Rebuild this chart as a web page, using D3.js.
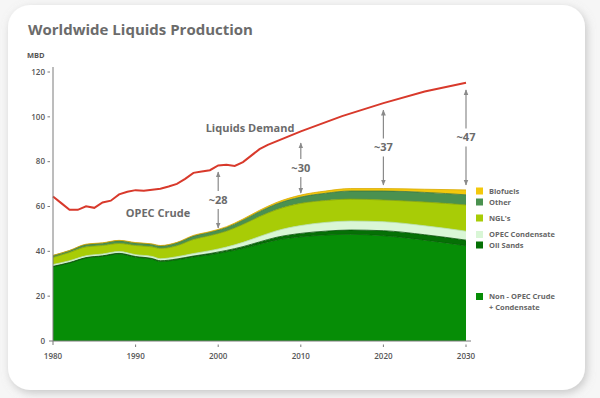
<!DOCTYPE html>
<html>
<head>
<meta charset="utf-8">
<script src="https://cdn.jsdelivr.net/npm/d3@7"></script>
<style>
  html, body { margin: 0; padding: 0; background: #ececec; }
  svg { display: block; font-family: "Open Sans", "DejaVu Sans", sans-serif; }
</style>
</head>
<body>
<div id="chart"></div>
<script>
// 数据：年份与各层产量（百万桶/日）
const years = [1980, 1982, 1984, 1986, 1988, 1990, 1992, 1993, 1995, 1997, 1999, 2001, 2003, 2005, 2007, 2010, 2013, 2016, 2020, 2025, 2030];
const nonOpec   = [33.1, 34.8, 37.0, 37.8, 38.8, 37.4, 36.5, 35.5, 36.2, 37.5, 38.5, 39.8, 41.3, 43.2, 45.0, 46.5, 47.3, 47.6, 47.0, 45.0, 42.5];
const oilSands  = [0.2, 0.2, 0.2, 0.2, 0.3, 0.3, 0.3, 0.3, 0.4, 0.4, 0.5, 0.6, 0.8, 1.0, 1.2, 1.5, 1.7, 1.9, 2.2, 2.4, 2.5];
const opecCond  = [0.8, 0.8, 0.8, 0.8, 0.8, 0.8, 0.9, 0.9, 1.0, 1.1, 1.3, 1.5, 1.9, 2.4, 2.9, 3.5, 3.9, 4.0, 4.0, 4.0, 4.0];
const ngl       = [3.2, 3.7, 4.0, 3.8, 3.6, 4.1, 4.3, 4.6, 4.9, 6.3, 6.7, 7.1, 8.0, 8.9, 9.4, 9.9, 9.8, 9.8, 9.7, 10.6, 11.7];
const other     = [0.8, 0.8, 1.0, 1.0, 1.2, 1.1, 1.1, 1.1, 1.3, 1.5, 1.5, 1.6, 1.9, 2.2, 2.5, 2.8, 3.2, 3.6, 4.0, 4.3, 4.5];
const biofuels  = [0.1, 0.1, 0.2, 0.2, 0.2, 0.2, 0.2, 0.2, 0.2, 0.3, 0.3, 0.4, 0.5, 0.6, 0.7, 0.9, 1.0, 1.1, 1.1, 1.4, 2.2];

// 需求曲线
const demandYears = [1980, 1981, 1982, 1983, 1984, 1985, 1986, 1987, 1988, 1989, 1990, 1991, 1992, 1993, 1994, 1995, 1996, 1997, 1998, 1999, 2000, 2001, 2002, 2003, 2004, 2005, 2006, 2008, 2010, 2015, 2020, 2025, 2030];
const demand      = [64.5, 61.5, 58.5, 58.5, 60.1, 59.4, 61.8, 62.6, 65.4, 66.6, 67.3, 67.0, 67.5, 67.9, 68.9, 70.1, 72.3, 75.0, 75.6, 76.2, 78.3, 78.6, 78.1, 79.8, 82.7, 85.6, 87.5, 90.5, 93.5, 100.3, 106.1, 111.3, 115.2];

// 缺口标注
const gapYears  = [2000, 2010, 2020, 2030];
const gapLabels = ["~28", "~30", "~37", "~47"];
const gapTop    = [75.4, 88.3, 103.0, 112.0];
const gapBottom = [50.4, 66.0, 69.6, 69.6];

const yTicks = [0, 20, 40, 60, 80, 100, 120];
const xTicks = [1980, 1990, 2000, 2010, 2020, 2030];

const layerKeys   = ["nonOpec", "oilSands", "opecCond", "ngl", "other", "biofuels"];
const layerColors = { nonOpec: "#068d06", oilSands: "#057005", opecCond: "#d9f6d6", ngl: "#a8cc06", other: "#4a9150", biofuels: "#f3c80c" };
const layerStroke = { nonOpec: "#045f04", oilSands: "#034d03", opecCond: "#b8e0b4", ngl: "#86a300", other: "#3a7440", biofuels: "#d8a800" };

// 图例（每行一个文本）
const legendItems = [
  { key: "biofuels", label: "Biofuels", y: 191 },
  { key: "other", label: "Other", y: 202 },
  { key: "ngl", label: "NGL's", y: 218 },
  { key: "opecCond", label: "OPEC Condensate", y: 234.5 },
  { key: "oilSands", label: "Oil Sands", y: 245 },
  { key: "nonOpec", label: "Non - OPEC Crude", y: 296.5 }
];
const legendExtra = [{ label: "+ Condensate", y: 307 }];

const width = 600, height = 398;
const svg = d3.select("#chart").append("svg")
  .attr("width", width)
  .attr("height", height);

// 卡片阴影
const defs = svg.append("defs");
const f = defs.append("filter").attr("id", "shadow").attr("x", "-10%").attr("y", "-10%").attr("width", "120%").attr("height", "120%");
f.append("feDropShadow").attr("dx", 2).attr("dy", 3).attr("stdDeviation", 4).attr("flood-color", "#999").attr("flood-opacity", 0.5);

svg.append("rect").attr("width", width).attr("height", height).attr("fill", "#f6f6f6");
svg.append("rect")
  .attr("x", 8).attr("y", 5).attr("width", 577).attr("height", 385)
  .attr("rx", 22).attr("ry", 22)
  .attr("fill", "#fff")
  .attr("filter", "url(#shadow)");

svg.append("text")
  .attr("x", 28).attr("y", 35)
  .attr("fill", "#6b6b6b")
  .style("font-size", "15px").style("font-weight", 700)
  .text("Worldwide Liquids Production");

// 比例尺
const x = d3.scaleLinear().domain([1980, 2030]).range([53, 466]);
const y = d3.scaleLinear().domain([0, 120]).range([341, 72]);

const table = years.map((yr, i) => ({
  year: yr, nonOpec: nonOpec[i], oilSands: oilSands[i], opecCond: opecCond[i],
  ngl: ngl[i], other: other[i], biofuels: biofuels[i]
}));
const series = d3.stack().keys(layerKeys)(table);

const area = d3.area()
  .x(d => x(d.data.year))
  .y0(d => y(d[0]))
  .y1(d => y(d[1]))
  .curve(d3.curveMonotoneX);
const topLine = d3.line()
  .x(d => x(d.data.year))
  .y(d => y(d[1]))
  .curve(d3.curveMonotoneX);

svg.append("g").selectAll("path")
  .data(series)
  .enter().append("path")
  .attr("d", area)
  .attr("fill", d => layerColors[d.key]);

svg.append("g").selectAll("path")
  .data(series)
  .enter().append("path")
  .attr("d", topLine)
  .attr("fill", "none")
  .attr("stroke", d => layerStroke[d.key])
  .attr("stroke-width", 0.8);

// 需求线
const demandLine = d3.line()
  .x((d, i) => x(demandYears[i]))
  .y(d => y(d))
  .curve(d3.curveLinear);
svg.append("path")
  .datum(demand)
  .attr("d", demandLine)
  .attr("fill", "none")
  .attr("stroke", "#d8392b")
  .attr("stroke-width", 2);

// 坐标轴
const axisColor = "#7a7a7a";
svg.append("line").attr("x1", 53).attr("x2", 53).attr("y1", 67).attr("y2", 345)
  .attr("stroke", axisColor).attr("stroke-width", 1);
svg.append("line").attr("x1", 49).attr("x2", 471).attr("y1", y(0)).attr("y2", y(0))
  .attr("stroke", axisColor).attr("stroke-width", 1);

const yt = svg.append("g").selectAll("g").data(yTicks).enter().append("g");
yt.filter(d => d > 0).append("line")
  .attr("x1", 47.5).attr("x2", 50).attr("y1", d => y(d)).attr("y2", d => y(d))
  .attr("stroke", axisColor);
yt.append("text")
  .attr("x", 45).attr("y", d => y(d)).attr("dy", "0.35em")
  .attr("text-anchor", "end")
  .attr("fill", "#555")
  .style("font-size", "8px").style("font-weight", 600)
  .text(d => d);

const xt = svg.append("g").selectAll("g").data(xTicks).enter().append("g");
xt.filter(d => d > 1980).append("line")
  .attr("x1", d => x(d)).attr("x2", d => x(d)).attr("y1", 344.5).attr("y2", 347)
  .attr("stroke", axisColor);
xt.append("text")
  .attr("x", d => x(d)).attr("y", 359)
  .attr("text-anchor", "middle")
  .attr("fill", "#555")
  .style("font-size", "8px").style("font-weight", 600)
  .text(d => d);

svg.append("text")
  .attr("x", 27).attr("y", 58)
  .attr("fill", "#555")
  .style("font-size", "7.5px").style("font-weight", 700)
  .text("MBD");

// 注释文字
svg.append("text")
  .attr("x", 250).attr("y", 132)
  .attr("text-anchor", "middle")
  .attr("fill", "#6b6b6b")
  .style("font-size", "11px").style("font-weight", 700)
  .text("Liquids Demand");
svg.append("text")
  .attr("x", 158).attr("y", 217)
  .attr("text-anchor", "middle")
  .attr("fill", "#6b6b6b")
  .style("font-size", "11px").style("font-weight", 700)
  .text("OPEC Crude");

// 缺口箭头
defs.append("marker")
  .attr("id", "arr").attr("viewBox", "0 0 10 10")
  .attr("refX", 9).attr("refY", 5)
  .attr("markerWidth", 5).attr("markerHeight", 6)
  .attr("orient", "auto")
  .append("path").attr("d", "M0,1 L10,5 L0,9 Z").attr("fill", "#8a8a8a");

gapYears.forEach((yr, i) => {
  const xp = x(yr);
  const top = y(gapTop[i]), bot = y(gapBottom[i]);
  const mid = (top + bot) / 2;
  svg.append("line")
    .attr("x1", xp).attr("x2", xp).attr("y1", mid - 9).attr("y2", top)
    .attr("stroke", "#8a8a8a").attr("stroke-width", 1.2)
    .attr("marker-end", "url(#arr)");
  svg.append("line")
    .attr("x1", xp).attr("x2", xp).attr("y1", mid + 9).attr("y2", bot)
    .attr("stroke", "#8a8a8a").attr("stroke-width", 1.2)
    .attr("marker-end", "url(#arr)");
  svg.append("text")
    .attr("x", xp).attr("y", mid).attr("dy", "0.35em")
    .attr("text-anchor", "middle")
    .attr("fill", "#6b6b6b")
    .style("font-size", "11px").style("font-weight", 700)
    .text(gapLabels[i]);
});

// 图例
const lg = svg.append("g").selectAll("g").data(legendItems).enter().append("g");
lg.append("rect")
  .attr("x", 476).attr("y", d => d.y - 3.5)
  .attr("width", 7).attr("height", 7)
  .attr("fill", d => layerColors[d.key]);
lg.append("text")
  .attr("x", 489).attr("y", d => d.y).attr("dy", "0.35em")
  .attr("fill", "#666")
  .style("font-size", "7.5px").style("font-weight", 700)
  .text(d => d.label);
svg.append("g").selectAll("text").data(legendExtra).enter().append("text")
  .attr("x", 489).attr("y", d => d.y).attr("dy", "0.35em")
  .attr("fill", "#666")
  .style("font-size", "7.5px").style("font-weight", 700)
  .text(d => d.label);
</script>
</body>
</html>
